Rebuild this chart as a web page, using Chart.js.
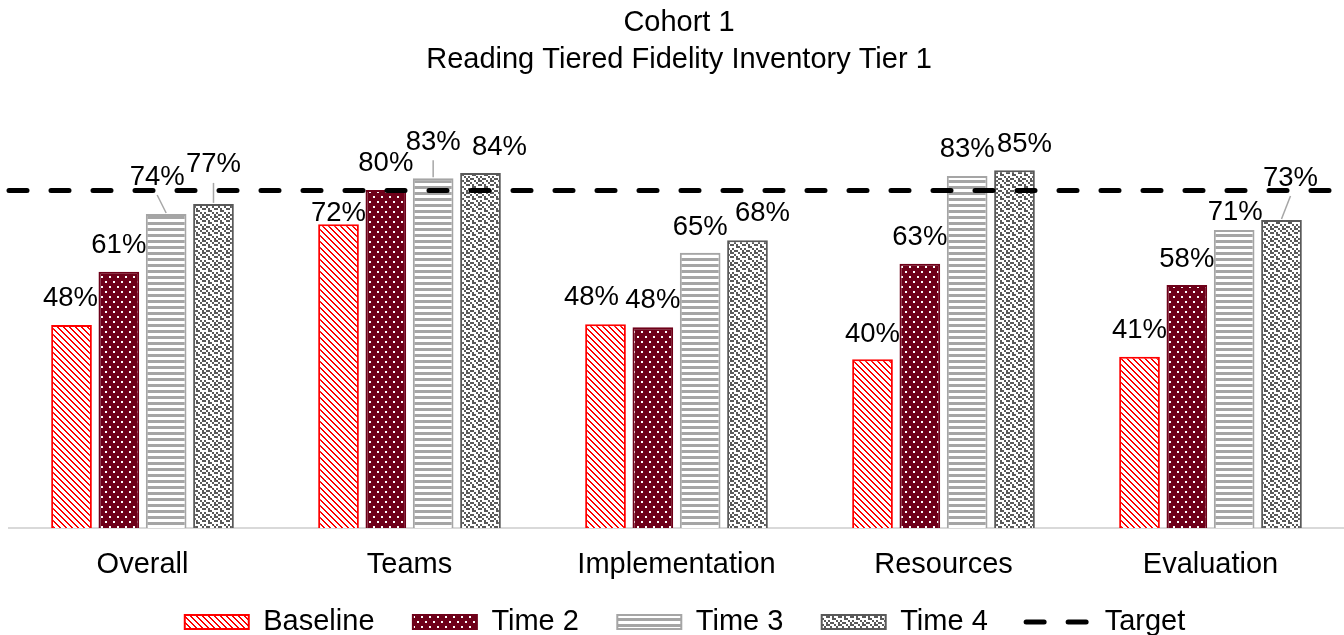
<!DOCTYPE html>
<html>
<head>
<meta charset="utf-8">
<script src="https://cdn.jsdelivr.net/npm/chart.js@4.4.1/dist/chart.umd.min.js"></script>
<style>
html,body{margin:0;padding:0;background:#fff;overflow:hidden;}
canvas{display:block;}
</style>
</head>
<body>
<canvas id="c" width="1344" height="635"></canvas>
<script>
// ---- data ----
const categories = ['Overall', 'Teams', 'Implementation', 'Resources', 'Evaluation'];
const baseline = [48.1, 72.0, 48.3, 40.0, 40.6];
const time2    = [60.7, 80.1, 47.6, 62.6, 57.6];
const time3    = [74.4, 82.9, 65.2, 83.4, 70.6];
const time4    = [76.8, 84.1, 68.2, 84.8, 73.0];
const target   = 80;
const seriesNames = ['Baseline', 'Time 2', 'Time 3', 'Time 4', 'Target'];
const titleLines = ['Cohort 1', 'Reading Tiered Fidelity Inventory Tier 1'];

// ---- styling ----
const FONT = '"Liberation Sans", Arial, Helvetica, sans-serif';
const RED = '#FF0000', MAROON = '#6E0019', GRAY = '#A5A5A5', DARK = '#595959';
const TARGET_STYLE = { color: '#000', width: 5, dash: [18, 24], cap: 'round' };

const canvas = document.getElementById('c');
const mainCtx = canvas.getContext('2d');

function makePattern(w, h, paint) {
  const c = document.createElement('canvas');
  c.width = w; c.height = h;
  const g = c.getContext('2d');
  paint(g, w, h);
  return mainCtx.createPattern(c, 'repeat');
}

const patBaseline = makePattern(6, 6, (g, w, h) => {
  g.fillStyle = '#fff'; g.fillRect(0, 0, w, h);
  g.fillStyle = RED;
  for (let y = 0; y < h; y++) for (let x = 0; x < w; x++) {
    if (((x - y) % 6 + 6) % 6 < 2) g.fillRect(x, y, 1, 1);
  }
});
const patTime2 = makePattern(8, 10, (g, w, h) => {
  g.fillStyle = MAROON; g.fillRect(0, 0, w, h);
  g.fillStyle = '#fff';
  g.fillRect(1, 1, 2, 2);
  g.fillRect(5, 6, 2, 2);
});
const patTime3 = makePattern(4, 6, (g, w, h) => {
  g.fillStyle = '#fff'; g.fillRect(0, 0, w, h);
  g.fillStyle = GRAY; g.fillRect(0, 0, w, 3);
});
const confettiCells = [
  '100101',
  '010010',
  '101001',
  '001100',
  '100010',
  '011001'
];
const patTime4 = makePattern(12, 12, (g, w, h) => {
  g.fillStyle = '#fff'; g.fillRect(0, 0, w, h);
  g.fillStyle = DARK;
  confettiCells.forEach((row, cy) => {
    [...row].forEach((v, cx) => { if (v === '1') g.fillRect(cx * 2, cy * 2, 2, 2); });
  });
});

// label offsets [dx, dy, leaderLine] per series per category (layout only)
const labelOffsets = [
  [[-1,-1],[0,15],[-14,-1],[0,1],[0,0]],
  [[0,0],[0,-1],[0,-1],[0,0],[0,0]],
  [[-9,-11,1],[0,-10,1],[0,1],[0,-1],[1,8]],
  [[0,-13,1],[19,0],[15,-1],[10,0],[9,-16,1]]
];

const barLabels = {
  id: 'barLabels',
  afterDatasetDraw(chart, args) {
    const meta = args.meta;
    if (meta.type !== 'bar') return;
    const ds = chart.data.datasets[args.index];
    const ctx = chart.ctx;
    ctx.save();
    ctx.font = '27.5px ' + FONT;
    ctx.fillStyle = '#000';
    ctx.textAlign = 'center';
    ctx.textBaseline = 'middle';
    meta.data.forEach((bar, i) => {
      const off = labelOffsets[args.index][i];
      const tx = bar.x + off[0];
      const ty = bar.y - 26 + off[1];
      if (off[2]) {
        ctx.strokeStyle = '#A6A6A6';
        ctx.lineWidth = 1.5;
        ctx.beginPath();
        ctx.moveTo(tx, ty + 18);
        ctx.lineTo(bar.x, bar.y - 1);
        ctx.stroke();
      }
      ctx.fillText(Math.round(ds.data[i]) + '%', tx, ty);
    });
    ctx.restore();
  }
};

// target line drawn across the full plot width through the y scale
const targetLine = {
  id: 'targetLine',
  afterDatasetsDraw(chart) {
    const y = chart.scales.y.getPixelForValue(target);
    const { left, right } = chart.chartArea;
    const ctx = chart.ctx;
    ctx.save();
    ctx.strokeStyle = TARGET_STYLE.color;
    ctx.lineWidth = TARGET_STYLE.width;
    ctx.setLineDash(TARGET_STYLE.dash);
    ctx.lineCap = TARGET_STYLE.cap;
    ctx.beginPath();
    ctx.moveTo(left, y);
    ctx.lineTo(right, y);
    ctx.stroke();
    ctx.restore();
  }
};

// nudge legend horizontally
const legendShift = {
  id: 'legendShift',
  afterLayout(chart) {
    if (chart.legend) { chart.legend.left += 6; chart.legend.right += 6; }
  }
};

const barCommon = { categoryPercentage: 0.709, barPercentage: 0.86, borderWidth: 2, pointStyle: 'rect' };

new Chart(canvas, {
  type: 'bar',
  data: {
    labels: categories,
    datasets: [
      Object.assign({ label: seriesNames[0], data: baseline, backgroundColor: patBaseline, borderColor: RED }, barCommon),
      Object.assign({ label: seriesNames[1], data: time2, backgroundColor: patTime2, borderColor: MAROON }, barCommon),
      Object.assign({ label: seriesNames[2], data: time3, backgroundColor: patTime3, borderColor: GRAY }, barCommon),
      Object.assign({ label: seriesNames[3], data: time4, backgroundColor: patTime4, borderColor: DARK }, barCommon),
      {
        type: 'line', label: seriesNames[4], data: [],
        borderColor: TARGET_STYLE.color, backgroundColor: TARGET_STYLE.color,
        borderWidth: TARGET_STYLE.width, borderDash: TARGET_STYLE.dash, borderCapStyle: TARGET_STYLE.cap,
        pointRadius: 0, fill: false
      }
    ]
  },
  options: {
    responsive: false,
    animation: false,
    devicePixelRatio: 1,
    layout: { padding: { left: 9, right: -5, top: 0, bottom: 0 } },
    scales: {
      x: {
        grid: { display: false, drawTicks: false },
        border: { display: true, color: '#D9D9D9', width: 2 },
        ticks: { font: { family: FONT, size: 29 }, color: '#000', padding: 20, maxRotation: 0, autoSkip: false },
        afterFit(scale) { scale.height = 55; }
      },
      y: { display: false, min: 0, max: 100 }
    },
    plugins: {
      title: {
        display: true, text: titleLines, color: '#000',
        font: { family: FONT, size: 29, weight: 'normal', lineHeight: 1.276 },
        padding: { top: 4, bottom: 28 }
      },
      legend: {
        position: 'bottom',
        maxHeight: 52,
        labels: {
          usePointStyle: true, pointStyleWidth: 64, boxHeight: 14, padding: 24.5,
          font: { family: FONT, size: 29 }, color: '#000',
          generateLabels(chart) {
            const items = Chart.defaults.plugins.legend.labels.generateLabels(chart);
            items.forEach((it) => {
              if (it.datasetIndex < 4) {
                it.pointStyle = 'rect';
                it.text = it.text + ' \u2009';
              } else {
                it.pointStyle = 'line'; it.lineDash = TARGET_STYLE.dash; it.lineWidth = TARGET_STYLE.width;
                it.lineCap = TARGET_STYLE.cap; it.strokeStyle = TARGET_STYLE.color;
              }
            });
            return items;
          }
        }
      },
      tooltip: { enabled: false }
    }
  },
  plugins: [barLabels, targetLine, legendShift]
});
</script>
</body>
</html>
